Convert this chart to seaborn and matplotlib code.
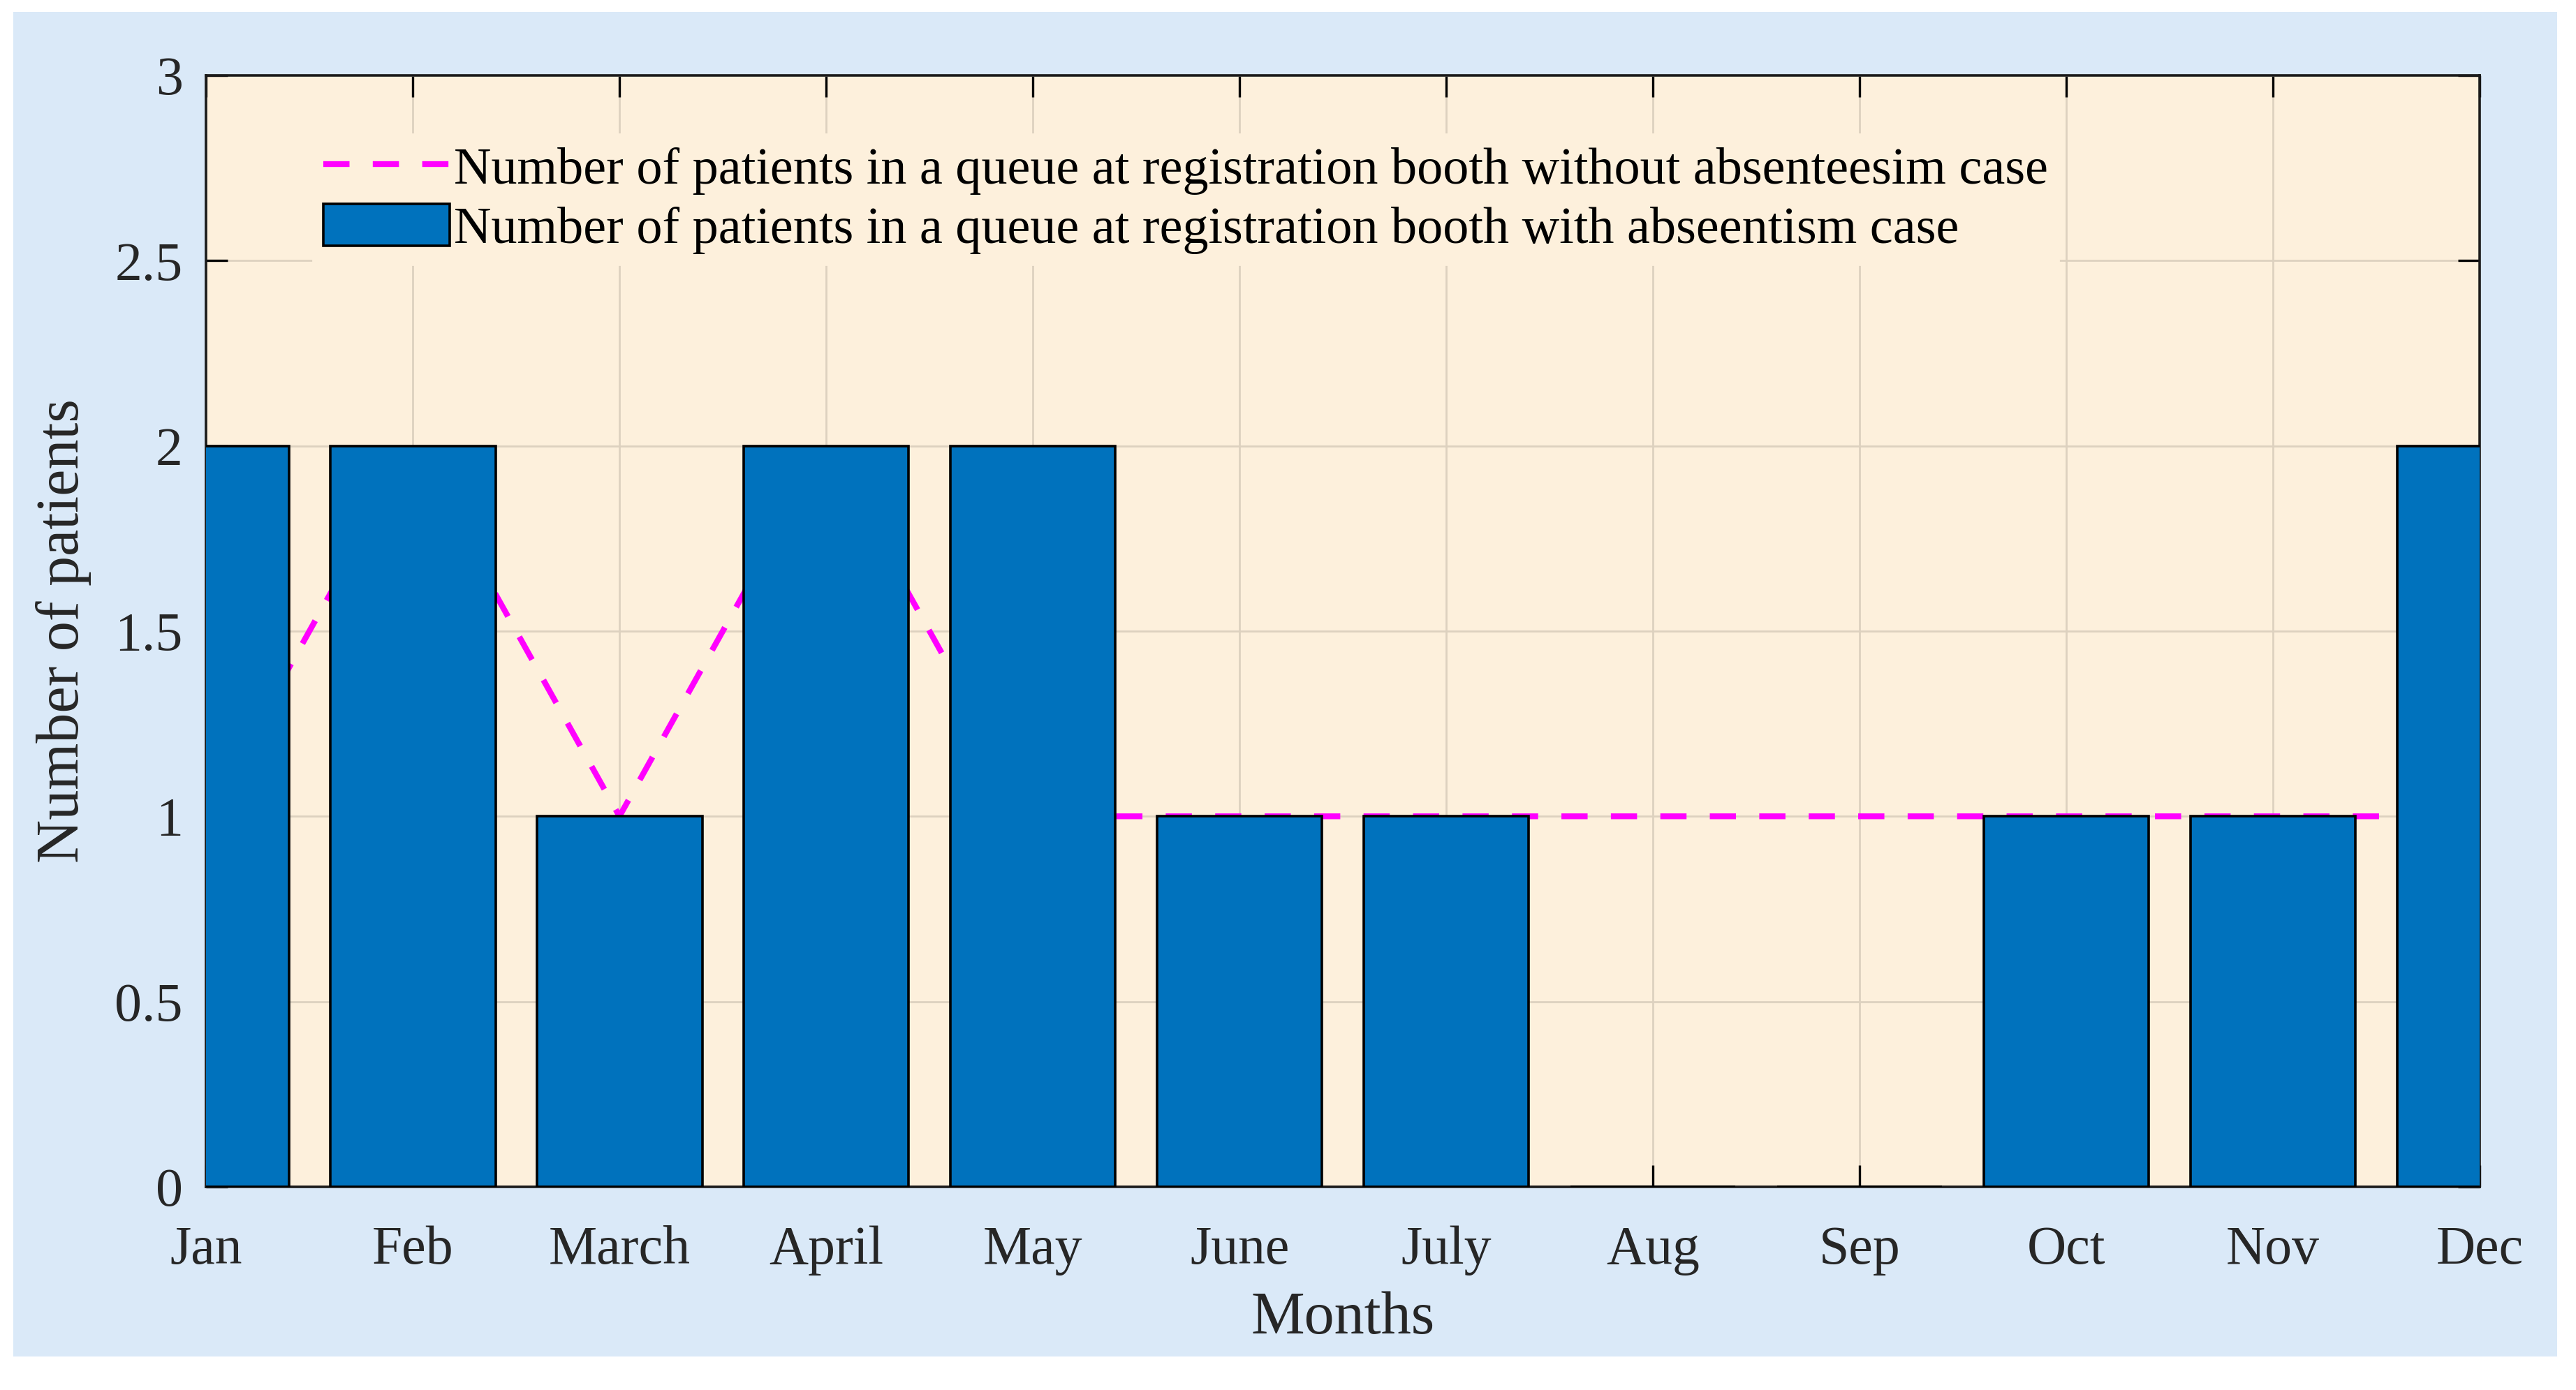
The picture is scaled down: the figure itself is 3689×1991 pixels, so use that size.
import numpy as np
import matplotlib.pyplot as plt
import seaborn as sns
from matplotlib.lines import Line2D
from matplotlib.patches import Patch, Rectangle

# data
months = ['Jan', 'Feb', 'March', 'April', 'May', 'June', 'July',
          'Aug', 'Sep', 'Oct', 'Nov', 'Dec']
queue_with_absent = [2, 2, 1, 2, 2, 1, 1, 0, 0, 1, 1, 2]
queue_without_absent = [1, 2, 1, 2, 1, 1, 1, 1, 1, 1, 1, 1]
y_ticks = [0, 0.5, 1, 1.5, 2, 2.5, 3]
y_tick_labels = ['0', '0.5', '1', '1.5', '2', '2.5', '3']
label_line = 'Number of patients in a queue at registration booth without absenteesim case'
label_bar = 'Number of patients in a queue at registration booth with abseentism case'

plt.rcParams['font.family'] = ['Liberation Serif', 'DejaVu Serif']

BLUE = '#0072BD'
MAGENTA = '#FF00FF'
CREAM = '#FDF0DC'
SKY = '#DAE9F8'
GRID = '#DDD1BF'
TXT = '#262626'

fig = plt.figure(figsize=(18.445, 9.955), dpi=200, facecolor='white')
fig.patches.append(Rectangle((0.0052, 0.0241), 0.9875, 0.9674, transform=fig.transFigure,
                             facecolor=SKY, edgecolor='none', zorder=-10))
ax = fig.add_axes([0.080, 0.1462, 0.8826, 0.7996])
ax.set_zorder(1)
ax.set_facecolor(CREAM)

# bars (drawn over the line, as in the reference)
sns.barplot(x=months, y=queue_with_absent, color=BLUE, saturation=1, width=0.8,
            edgecolor='black', linewidth=1.3, zorder=3, ax=ax)

# dashed line
sns.lineplot(x=np.arange(len(months)), y=queue_without_absent, color=MAGENTA,
             linewidth=3, zorder=2, ax=ax)
ax.lines[-1].set_linestyle((0, (4.5, 4)))

ax.set_xlim(0, len(months) - 1)
ax.set_ylim(0, 3)
ax.set_xticks(np.arange(len(months)))
ax.set_xticklabels(months)
ax.set_yticks(y_ticks)
ax.set_yticklabels(y_tick_labels)

ax.grid(True, color=GRID, linewidth=1.0)
ax.set_axisbelow(True)
for s in ax.spines.values():
    s.set_linewidth(1.3)
    s.set_color('#1a1a1a')

ax.tick_params(axis='both', direction='in', length=11, width=1.2, top=True, right=True,
               labelsize=28, labelcolor=TXT)
ax.tick_params(axis='x', pad=20)
ax.tick_params(axis='y', pad=12)

ax.set_xlabel('Months', fontsize=31, color=TXT, labelpad=8)
ax.set_ylabel('Number of patients', fontsize=31, color=TXT, labelpad=12)

handles = [Line2D([0], [0], color=MAGENTA, lw=3, linestyle=(0, (4.5, 4))),
           Patch(facecolor=BLUE, edgecolor='black', linewidth=1.3)]
leg = ax.legend(handles, [label_line, label_bar], loc='upper left',
                bbox_to_anchor=(0.047, 0.947), fontsize=26.7, frameon=True,
                facecolor=CREAM, edgecolor=CREAM, framealpha=1, fancybox=False,
                borderpad=0.2, handlelength=2.44, handleheight=0.87,
                handletextpad=0.08, labelspacing=0.18, borderaxespad=0)
leg.set_zorder(5)

fig.savefig('out.png', dpi=200, facecolor='white')
